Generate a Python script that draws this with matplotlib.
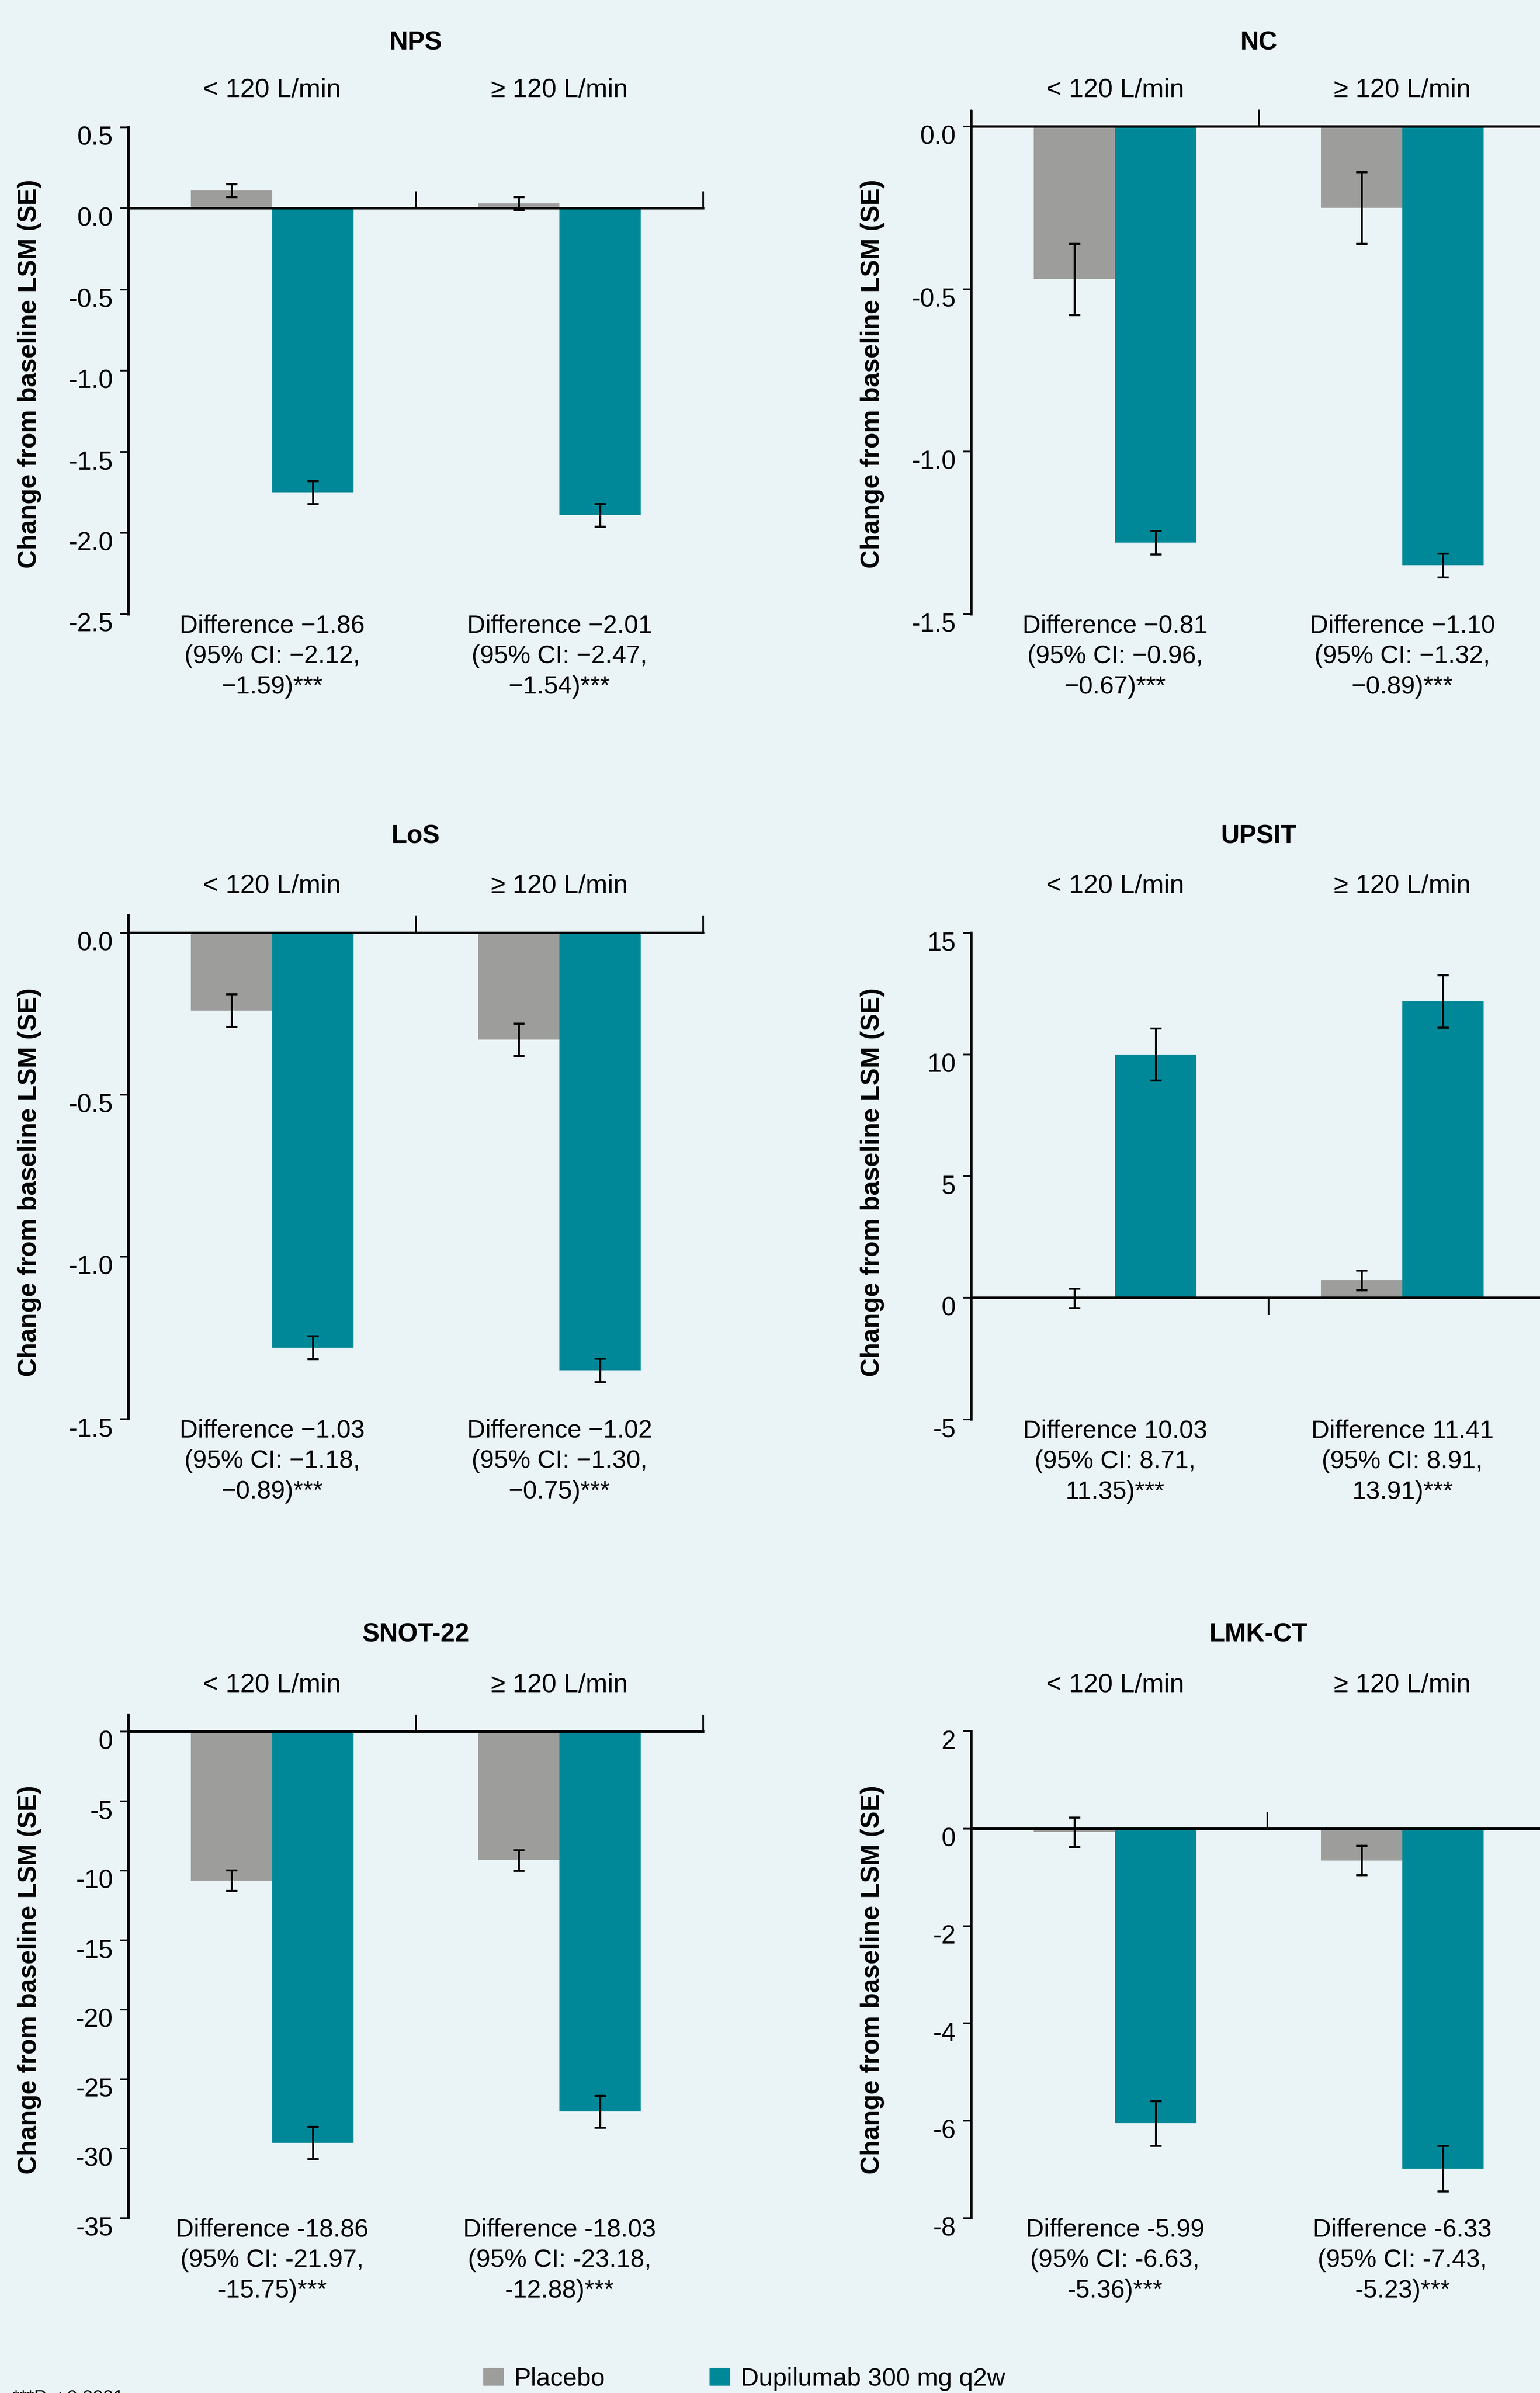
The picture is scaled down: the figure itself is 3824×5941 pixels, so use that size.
import numpy as np
import matplotlib
matplotlib.use("Agg")
import matplotlib.pyplot as plt
from matplotlib.patches import Patch
from matplotlib.transforms import ScaledTranslation, blended_transform_factory

plt.rcParams['font.family'] = ['Liberation Sans', 'DejaVu Sans']
plt.rcParams['axes.unicode_minus'] = False

# ---- data ----
panels = ['NPS', 'NC', 'LoS', 'UPSIT', 'SNOT-22', 'LMK-CT']
subgroups = ['< 120 L/min', '\u2265 120 L/min']
series = ['Placebo', 'Dupilumab 300 mg q2w']

placebo_lsm = [[0.11, 0.03], [-0.47, -0.25], [-0.24, -0.33],
               [-0.02, 0.72], [-10.7, -9.25], [-0.07, -0.65]]
placebo_se = [[0.04, 0.04], [0.11, 0.11], [0.05, 0.05],
              [0.40, 0.40], [0.73, 0.74], [0.30, 0.30]]
dupi_lsm = [[-1.75, -1.89], [-1.28, -1.35], [-1.28, -1.35],
            [10.0, 12.18], [-29.58, -27.33], [-6.05, -6.98]]
dupi_se = [[0.07, 0.07], [0.036, 0.036], [0.035, 0.036],
           [1.07, 1.08], [1.16, 1.15], [0.46, 0.47]]

diff_text = [
    ['Difference \u22121.86\n(95% CI: \u22122.12,\n\u22121.59)***',
     'Difference \u22122.01\n(95% CI: \u22122.47,\n\u22121.54)***'],
    ['Difference \u22120.81\n(95% CI: \u22120.96,\n\u22120.67)***',
     'Difference \u22121.10\n(95% CI: \u22121.32,\n\u22120.89)***'],
    ['Difference \u22121.03\n(95% CI: \u22121.18,\n\u22120.89)***',
     'Difference \u22121.02\n(95% CI: \u22121.30,\n\u22120.75)***'],
    ['Difference 10.03\n(95% CI: 8.71,\n11.35)***',
     'Difference 11.41\n(95% CI: 8.91,\n13.91)***'],
    ['Difference -18.86\n(95% CI: -21.97,\n-15.75)***',
     'Difference -18.03\n(95% CI: -23.18,\n-12.88)***'],
    ['Difference -5.99\n(95% CI: -6.63,\n-5.36)***',
     'Difference -6.33\n(95% CI: -7.43,\n-5.23)***'],
]

yticks = [[0.5, 0.0, -0.5, -1.0, -1.5, -2.0, -2.5],
          [0.0, -0.5, -1.0, -1.5],
          [0.0, -0.5, -1.0, -1.5],
          [15, 10, 5, 0, -5],
          [0, -5, -10, -15, -20, -25, -30, -35],
          [2, 0, -2, -4, -6, -8]]
ytick_fmt = ['{:.1f}', '{:.1f}', '{:.1f}', '{:.0f}', '{:.0f}', '{:.0f}']
ylims = [(-2.5, 0.5), (-1.5, 0.048), (-1.5, 0.054),
         (-5, 15), (-35, 1.23), (-8, 2)]

# ---- layout (pixels of the 3824 x 5941 canvas) ----
W, H = 3824, 5941
bg = '#eaf3f6'
grey = '#9d9d9b'
teal = '#008898'

col_left = [319, 2412]
ax_w = 1427
# (top, bottom) per panel
ax_tb = [(315.7, 1524.5), (275.5, 1524.5), (2272.1, 3522.7), (2315.7, 3523.9),
         (4256.9, 5506.9), (4298.2, 5506.9)]
title_y = [107, 2076, 4059]
sub_y = [224, 2200, 4184]
ylab_y = [928, 2935, 4915]
mid_tick = [0.5, 0.5, 0.5, 0.535, 0.5, 0.53]
xtick_dir = ['in', 'in', 'in', 'out', 'in', 'in']

fig = plt.figure(figsize=(W / 100, H / 100), dpi=100, facecolor=bg)

bw = 0.283
x = np.arange(2)
ekw = dict(ecolor='black', elinewidth=3.6, capsize=10, capthick=3.6, zorder=3)

for i, name in enumerate(panels):
    row, col = divmod(i, 2)
    left = col_left[col]
    top, bot = ax_tb[i]
    ax = fig.add_axes([left / W, 1 - bot / H, ax_w / W, (bot - top) / H])
    ax.set_facecolor('none')

    ax.bar(x - bw / 2, placebo_lsm[i], bw, color=grey, yerr=placebo_se[i],
           error_kw=ekw, zorder=1)
    ax.bar(x + bw / 2, dupi_lsm[i], bw, color=teal, yerr=dupi_se[i],
           error_kw=ekw, zorder=1)

    ax.set_xlim(-0.5, 1.5)
    ax.set_ylim(*ylims[i])
    for s in ['top', 'right']:
        ax.spines[s].set_visible(False)
    ax.spines['bottom'].set_position(('data', 0))
    ax.spines['bottom'].set_linewidth(4.3)
    ax.spines['left'].set_linewidth(4.3)

    ax.set_xticks([-0.5, mid_tick[i], 1.5])
    ax.set_xticklabels([])
    ax.tick_params(axis='x', direction=xtick_dir[i], length=30, width=3)
    ax.set_yticks(yticks[i])
    ax.set_yticklabels([ytick_fmt[i].format(v) for v in yticks[i]])
    ax.tick_params(axis='y', direction='out', length=15, width=3, pad=13,
                   labelsize=46)
    for t in ax.yaxis.get_major_ticks():
        t.label1.set_transform(t.label1.get_transform()
                               + ScaledTranslation(0, -0.2, fig.dpi_scale_trans))

    # panel title and subgroup headers
    fig.text((left + ax_w / 2) / W, 1 - title_y[row] / H, name,
             ha='center', va='center', fontsize=46, fontweight='bold')
    tr = blended_transform_factory(ax.transData, fig.transFigure)
    for j, sg in enumerate(subgroups):
        ax.text(x[j], 1 - sub_y[row] / H, sg, transform=tr,
                ha='center', va='center', fontsize=47)
        ax.text(x[j], ylims[i][0], diff_text[i][j], ha='center', va='top',
                fontsize=45, linespacing=1.36, clip_on=False)

    fig.text((left - 246) / W, 1 - ylab_y[row] / H,
             'Change from baseline LSM (SE)', rotation=90,
             ha='center', va='center', fontsize=46, fontweight='bold')

handles = [Patch(color=grey), Patch(color=teal)]
fig.legend(handles, series, loc='center',
           bbox_to_anchor=(1848 / W, 1 - 5906 / H), ncol=2, frameon=False,
           fontsize=45, handlelength=0.8, handleheight=0.69,
           handletextpad=0.42, columnspacing=4.16, borderpad=0)

# footnote sits at the very bottom edge, as in the source image
fig.text(31 / W, 1 - 5932 / H, '***P < 0.0001', fontsize=33,
         ha='left', va='top')

fig.savefig('out.png', dpi=100, facecolor=bg)
